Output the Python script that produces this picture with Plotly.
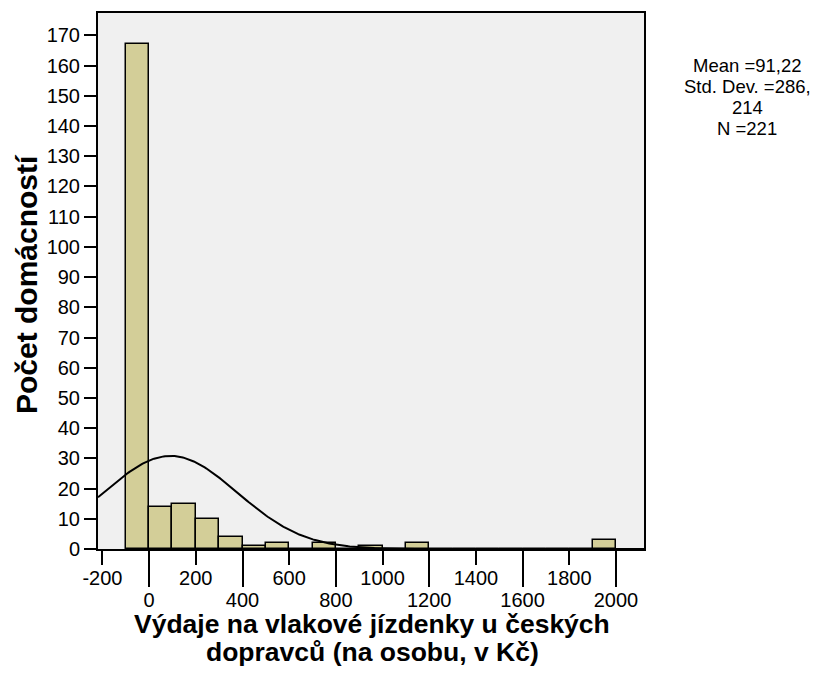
import numpy as np
import plotly.graph_objects as go

# ---- data ----
bin_left = [-100, 0, 100, 200, 300, 400, 500, 600, 700, 800, 900, 1000,
            1100, 1200, 1300, 1400, 1500, 1600, 1700, 1800, 1900]
counts = [167, 14, 15, 10, 4, 1, 2, 0, 2, 0, 1, 0,
          2, 0, 0, 0, 0, 0, 0, 0, 3]
bin_width = 100
mean_val = 91.22
sd_val = 286.214
n_val = 221
stats_lines = ["Mean =91,22", "Std. Dev. =286,", "214", "N =221"]
x_ticks_row1 = [-200, 200, 600, 1000, 1400, 1800]
x_ticks_row2 = [0, 400, 800, 1200, 1600, 2000]
y_ticks = list(range(0, 171, 10))
x_title = ["Výdaje na vlakové jízdenky u českých", "dopravců (na osobu, v Kč)"]
y_title = "Počet domácností"

# ---- layout geometry ----
W, H = 822, 684
L, R, T, B = 98, 178, 13, 135
PW, PH = W - L - R, H - T - B
x_range = [-219, 2120]
y_range = [0, 177.4]


def px2x(px):
    return (px - L) / PW


def py2y(py):
    return (H - B - py) / PH


FONT = "Liberation Sans, Arial, sans-serif"

fig = go.Figure()

centers = [b + bin_width / 2 for b in bin_left]
fig.add_trace(go.Bar(
    x=centers, y=counts, width=[bin_width] * len(counts),
    marker=dict(color="#D3CE98", line=dict(color="black", width=1.5)),
    hoverinfo="skip", showlegend=False, xaxis="x", yaxis="y",
))

# normal curve from the printed statistics
xc = np.linspace(x_range[0], x_range[1], 400)
yc = n_val * bin_width / (sd_val * np.sqrt(2 * np.pi)) * np.exp(-0.5 * ((xc - mean_val) / sd_val) ** 2)
fig.add_trace(go.Scatter(
    x=xc, y=yc, mode="lines", line=dict(color="black", width=2),
    hoverinfo="skip", showlegend=False, xaxis="x2", yaxis="y",
))
# invisible anchors so the label-only axes are drawn
for ax in ["x3", "x4"]:
    fig.add_trace(go.Scatter(
        x=[x_range[0]], y=[0], mode="markers", marker=dict(opacity=0),
        hoverinfo="skip", showlegend=False, xaxis=ax, yaxis="y",
    ))

tickfont = dict(family=FONT, size=20, color="black")
common = dict(range=x_range, tickmode="array", showgrid=False, zeroline=False)

fig.update_layout(
    width=W, height=H,
    margin=dict(l=L, r=R, t=T, b=B, autoexpand=False),
    paper_bgcolor="white", plot_bgcolor="#F0F0F0",
    bargap=0,
    # tick marks
    xaxis=dict(
        **common, tickvals=x_ticks_row1, showticklabels=False,
        ticks="outside", ticklen=14, tickwidth=2, tickcolor="black",
        showline=True, linecolor="black", linewidth=2, mirror=True,
    ),
    xaxis2=dict(
        **common, overlaying="x", anchor="y", side="bottom",
        tickvals=x_ticks_row2, showticklabels=False,
        ticks="outside", ticklen=37, tickwidth=2, tickcolor="black",
        showline=False,
    ),
    # tick labels
    xaxis3=dict(
        **common, overlaying="x", anchor="y", side="bottom",
        tickvals=x_ticks_row1, ticktext=[str(v) for v in x_ticks_row1],
        ticks="outside", ticklen=11, tickcolor="rgba(0,0,0,0)",
        showline=False, tickfont=tickfont,
    ),
    xaxis4=dict(
        **common, overlaying="x", anchor="y", side="bottom",
        tickvals=x_ticks_row2, ticktext=[str(v) for v in x_ticks_row2],
        ticks="outside", ticklen=33, tickcolor="rgba(0,0,0,0)",
        showline=False, tickfont=tickfont,
    ),
    yaxis=dict(
        range=y_range, tickmode="array", tickvals=y_ticks,
        ticks="outside", ticklen=12, tickwidth=2, tickcolor="black",
        showline=True, linecolor="black", linewidth=2, mirror=True,
        showgrid=False, zeroline=False, tickfont=tickfont,
    ),
)

ann = []
ann.append(dict(
    text=y_title, x=px2x(26), y=py2y(284), xref="paper", yref="paper",
    xanchor="center", yanchor="middle", textangle=-90, showarrow=False,
    font=dict(family=FONT, size=30, color="black", weight="bold"),
))
for line, py in zip(x_title, [624, 652]):
    ann.append(dict(
        text=line, x=px2x(372), y=py2y(py), xref="paper", yref="paper",
        xanchor="center", yanchor="middle", showarrow=False,
        font=dict(family=FONT, size=26.5, color="black", weight="bold"),
    ))
for line, py in zip(stats_lines, [66, 86.8, 107.6, 128.4]):
    ann.append(dict(
        text=line, x=px2x(747), y=py2y(py), xref="paper", yref="paper",
        xanchor="center", yanchor="middle", showarrow=False,
        font=dict(family=FONT, size=18.5, color="black"),
    ))
fig.update_layout(annotations=ann)

fig.write_html("out.html", config={"displayModeBar": False},
               post_script="document.body.style.margin='0';")
